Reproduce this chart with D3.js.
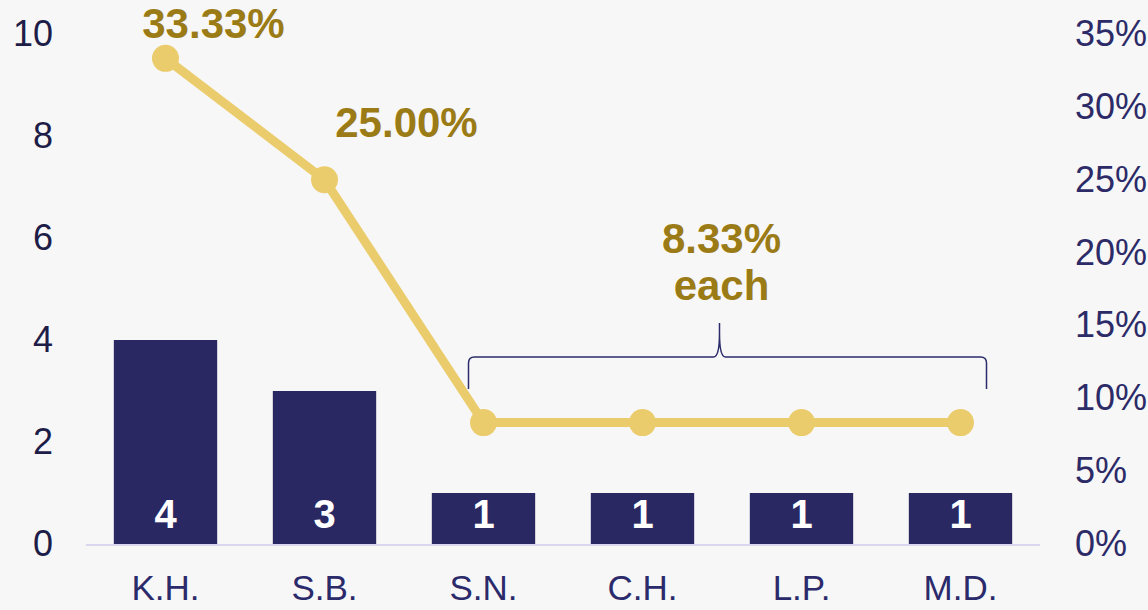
<!DOCTYPE html>
<html><head><meta charset="utf-8">
<script src="https://cdn.jsdelivr.net/npm/d3@7"></script>
<style>
html,body{margin:0;padding:0;background:#f7f7f7;}
svg{display:block;font-family:"Liberation Sans",Arial,sans-serif;}
</style></head>
<body>
<svg id="c" width="1148" height="610"></svg>
<script>
const categories = ["K.H.","S.B.","S.N.","C.H.","L.P.","M.D."];
const counts = [4,3,1,1,1,1];
const shares = [0.3333,0.25,0.0833,0.0833,0.0833,0.0833];
const leftTicks = [0,2,4,6,8,10];
const rightTicks = [0,0.05,0.10,0.15,0.20,0.25,0.30,0.35];
const pointLabels = [
  {i:0, text:"33.33%", dx:48, y:38},
  {i:1, text:"25.00%", dx:82, y:137}
];
const groupLabel = ["8.33%","each"];

const svg = d3.select("#c");
const x = d3.scaleBand().domain(categories).range([86,1040]).paddingInner(0.35).paddingOuter(0.175);
const yL = d3.scaleLinear().domain([0,10]).range([544,34]);
const yR = d3.scaleLinear().domain([0,0.35]).range([544,34]);

const navy="#292862", gold="#ebcc6c", goldText="#9b7b16";

// left axis
const la = svg.append("g").attr("transform","translate(53,0)")
  .call(d3.axisLeft(yL).tickValues(leftTicks).tickSize(0).tickPadding(0));
la.select(".domain").remove();
la.selectAll("text").attr("font-size",36).attr("fill","#1e1d48")
  .attr("font-family","Liberation Sans, Arial, sans-serif").attr("dy","0.32em");

// right axis
const ra = svg.append("g").attr("transform","translate(1075,0)")
  .call(d3.axisRight(yR).tickValues(rightTicks).tickFormat(d3.format(".0%")).tickSize(0).tickPadding(0));
ra.select(".domain").remove();
ra.selectAll("text").attr("font-size",36).attr("fill","#2c2b68")
  .attr("font-family","Liberation Sans, Arial, sans-serif").attr("dy","0.32em");

// bars
svg.selectAll("rect.bar").data(categories).enter().append("rect")
  .attr("x",d=>x(d)).attr("width",x.bandwidth())
  .attr("y",(d,i)=>yL(counts[i])).attr("height",(d,i)=>yL(0)-yL(counts[i]))
  .attr("fill",navy);

// baseline
svg.append("line").attr("x1",86).attr("x2",1040).attr("y1",yL(0)+1).attr("y2",yL(0)+1)
  .attr("stroke","#d8d7ee").attr("stroke-width",2);

// bar labels
svg.selectAll("text.bl").data(categories).enter().append("text")
  .attr("x",d=>x(d)+x.bandwidth()/2).attr("y",528)
  .attr("text-anchor","middle").attr("font-size",40).attr("font-weight","bold")
  .attr("fill","#ffffff").text((d,i)=>counts[i]);

// x labels
const xa = svg.append("g").attr("transform","translate(0,"+yL(0)+")")
  .call(d3.axisBottom(x).tickSize(0).tickPadding(0));
xa.select(".domain").remove();
xa.selectAll("text").attr("font-size",35).attr("fill","#2b2a6b")
  .attr("font-family","Liberation Sans, Arial, sans-serif").attr("dy",0).attr("y",56);

// line
const cx = (d)=>x(d)+x.bandwidth()/2;
svg.append("path").datum(categories)
  .attr("d",d3.line().x(d=>cx(d)).y((d,i)=>yR(shares[i])))
  .attr("fill","none").attr("stroke",gold).attr("stroke-width",9).attr("stroke-linejoin","round");
svg.selectAll("circle.pt").data(categories).enter().append("circle")
  .attr("cx",d=>cx(d)).attr("cy",(d,i)=>yR(shares[i])).attr("r",13.5).attr("fill",gold);

// point labels
svg.selectAll("text.pl").data(pointLabels).enter().append("text")
  .attr("x",d=>cx(categories[d.i])+d.dx).attr("y",d=>d.y)
  .attr("text-anchor","middle").attr("font-size",42).attr("font-weight","bold")
  .attr("fill",goldText).text(d=>d.text);

// brace
const bx0 = cx(categories[2])-15, bx1 = cx(categories[5])+26;
const bm = (bx0+bx1)/2 - 8;
const yTop = 357, yEnd = 389, yTip = 323;
const r = 6;
const bp = d3.path();
bp.moveTo(bx0,yEnd);
bp.lineTo(bx0,yTop+r);
bp.quadraticCurveTo(bx0,yTop,bx0+r,yTop);
bp.lineTo(bm-6,yTop);
bp.quadraticCurveTo(bm,yTop,bm,yTip+10);
bp.lineTo(bm,yTip);
bp.moveTo(bm,yTip+10);
bp.quadraticCurveTo(bm,yTop,bm+6,yTop);
bp.lineTo(bx1-r,yTop);
bp.quadraticCurveTo(bx1,yTop,bx1,yTop+r);
bp.lineTo(bx1,yEnd);
svg.append("path").attr("d",bp.toString()).attr("fill","none")
  .attr("stroke","#2c2b6b").attr("stroke-width",1.5);

// group label
svg.selectAll("text.gl").data(groupLabel).enter().append("text")
  .attr("x",bm+2).attr("y",(d,i)=>253+i*47)
  .attr("text-anchor","middle").attr("font-size",42).attr("font-weight","bold")
  .attr("fill",goldText).text(d=>d);
</script>
</body></html>
